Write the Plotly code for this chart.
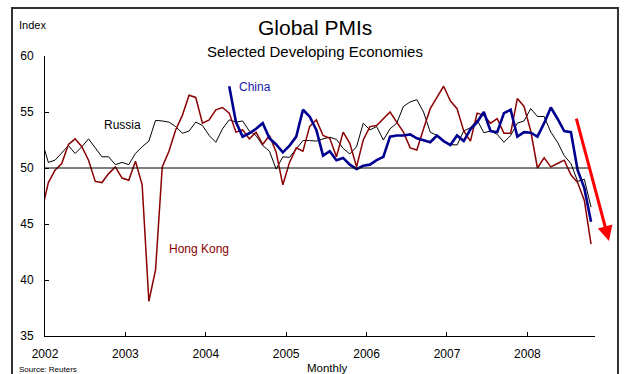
import plotly.graph_objects as go

# Monthly index values; first element is Dec 2001 (clipped by the axis), last is Oct 2008
start_year = 2002
start_month_offset = -1  # Dec 2001

hong_kong = [46.1, 48.7, 49.8, 50.4, 52.1, 52.6, 51.9, 50.7, 48.8, 48.7, 49.5, 50.1, 49.1,
             48.9, 50.6, 48.5, 38.1, 40.9, 50.1, 51.5, 53.4, 54.7, 56.5, 56.3, 54.0,
             54.3, 55.2, 55.4, 54.9, 53.2, 53.4, 52.6, 53.2, 52.1, 52.9, 51.4, 48.5,
             50.5, 51.8, 51.5, 53.7, 54.3, 52.9, 52.65, 51.0, 53.2, 52.2, 50.1, 52.5,
             53.7, 53.8, 54.4, 55.0, 54.1, 53.2, 51.8, 51.6, 53.5, 55.3, 56.3, 57.3,
             56.0, 55.3, 53.3, 52.4, 54.9, 54.7, 54.0, 54.4, 53.1, 53.1, 56.2, 55.5,
             53.3, 50.0, 50.9, 50.1, 50.4, 50.7, 49.4, 48.7, 47.1, 43.2]

russia = [52.5, 50.5, 50.7, 51.4, 52.0, 51.3, 51.9, 52.6, 51.8, 51.0, 51.0, 50.3, 50.5,
          50.3, 51.3, 51.9, 52.4, 54.25, 54.2, 54.1, 53.7, 53.1, 53.3, 54.1, 53.8,
          52.9, 52.3, 53.5, 54.3, 54.1, 54.2, 53.3, 52.9, 52.0, 51.5, 49.9, 51.0,
          50.95, 51.7, 52.45, 52.45, 52.4, 52.6, 52.75, 52.55, 51.75, 51.25, 51.9, 54.0,
          53.4, 53.7, 52.5, 53.5, 54.0, 55.5, 55.9, 56.1, 55.0, 53.2, 52.9, 52.4,
          52.1, 52.05, 53.3, 53.6, 54.3, 53.15, 53.3, 53.0, 52.3, 52.9, 54.0, 54.2,
          55.3, 54.6, 54.6, 53.2, 52.3, 51.1, 50.4, 48.8, 49.0, 46.5]

china_start_index = 28  # position in the monthly list (Apr 2004)
china = [57.3, 54.1, 52.8, 53.1, 53.5, 54.0, 52.65, 52.1, 51.4, 52.0, 52.8, 55.2, 54.6,
         53.4, 51.1, 51.5, 50.7, 50.9, 50.3, 49.9, 50.2, 50.3, 50.7, 51.0, 52.8,
         52.9, 52.9, 53.0, 52.65, 52.5, 52.3, 52.9, 52.4, 52.05, 52.9, 52.4, 53.45,
         54.1, 55.0, 53.3, 53.2, 54.9, 55.2, 52.8, 53.2, 53.15, 52.8, 54.0, 55.4,
         54.4, 53.3, 53.2, 49.8, 48.2, 45.2]

year_ticks = [2002, 2003, 2004, 2005, 2006, 2007, 2008]
y_ticks = [35, 40, 45, 50, 55, 60]

def month_x(n):
    return [start_year + (k + start_month_offset + 0.5) / 12 for k in range(n)]

x_all = month_x(len(russia))
x_china = x_all[china_start_index:china_start_index + len(china)]

X_MAX = 2008.841
font_family = "Liberation Sans, Arial, sans-serif"

fig = go.Figure()
fig.add_trace(go.Scatter(x=x_all, y=russia, mode="lines",
                         line=dict(color="#000000", width=1), name="Russia"))
fig.add_trace(go.Scatter(x=x_all, y=hong_kong, mode="lines",
                         line=dict(color="#8B0000", width=1.5), name="Hong Kong"))
fig.add_trace(go.Scatter(x=x_china, y=china, mode="lines",
                         line=dict(color="#000090", width=2.6), name="China"))

fig.add_shape(type="line", xref="x", yref="y", x0=2002, x1=2008.78, y0=50, y1=50,
              line=dict(color="#000000", width=1))
fig.add_shape(type="rect", xref="paper", yref="paper", x0=-0.06, x1=1.0418,
              y0=-0.15, y1=1.1714, line=dict(color="#333333", width=2))

anns = [
    dict(text="Global PMIs", x=0.491, y=1.1, xref="paper", yref="paper",
         font=dict(size=21, color="#000"), showarrow=False, xanchor="center", yanchor="middle"),
    dict(text="Selected Developing Economies", x=0.491, y=1.0143, xref="paper", yref="paper",
         font=dict(size=15, color="#000"), showarrow=False, xanchor="center", yanchor="middle"),
    dict(text="Index", x=-0.0509, y=1.1107, xref="paper", yref="paper",
         font=dict(size=11, color="#000"), showarrow=False, xanchor="left", yanchor="middle"),
    dict(text="Source: Reuters", x=-0.0509, y=-0.1214, xref="paper", yref="paper",
         font=dict(size=8, color="#000"), showarrow=False, xanchor="left", yanchor="middle"),
    dict(text="Monthly", x=0.5145, y=-0.1143, xref="paper", yref="paper",
         font=dict(size=11.5, color="#000"), showarrow=False, xanchor="center", yanchor="middle"),
    dict(text="China", x=2004.388, y=57.23, xref="x", yref="y",
         font=dict(size=12, color="#1a1aa8"), showarrow=False, xanchor="left", yanchor="middle"),
    dict(text="Russia", x=2002.709, y=53.84, xref="x", yref="y",
         font=dict(size=12, color="#000"), showarrow=False, xanchor="left", yanchor="middle"),
    dict(text="Hong Kong", x=2003.517, y=42.77, xref="x", yref="y",
         font=dict(size=12, color="#8B0000"), showarrow=False, xanchor="left", yanchor="middle"),
    dict(text="", x=2009.015, y=43.48, ax=2008.604, ay=54.55, xref="x", yref="y",
         axref="x", ayref="y", showarrow=True, arrowcolor="#FF0000", arrowwidth=3,
         arrowhead=2, arrowsize=1, standoff=0, startstandoff=0),
]

fig.update_layout(
    width=625, height=374,
    margin=dict(l=45, r=30, t=56, b=38),
    paper_bgcolor="white", plot_bgcolor="white",
    showlegend=False,
    font=dict(family=font_family, color="#000"),
    annotations=anns,
    xaxis=dict(range=[2002, X_MAX], tickvals=year_ticks, ticktext=[str(v) for v in year_ticks],
               showgrid=False, zeroline=False, showline=True, linecolor="#000", linewidth=1,
               ticks="inside", ticklen=4, tickcolor="#000", tickfont=dict(size=12),
               ticklabelstandoff=7),
    yaxis=dict(range=[35, 60], tickvals=y_ticks, showgrid=False, zeroline=False,
               showline=True, linecolor="#000", linewidth=1, ticks="inside", ticklen=4,
               tickcolor="#000", tickfont=dict(size=12), ticklabelstandoff=8),
)

fig.write_html("out.html")
